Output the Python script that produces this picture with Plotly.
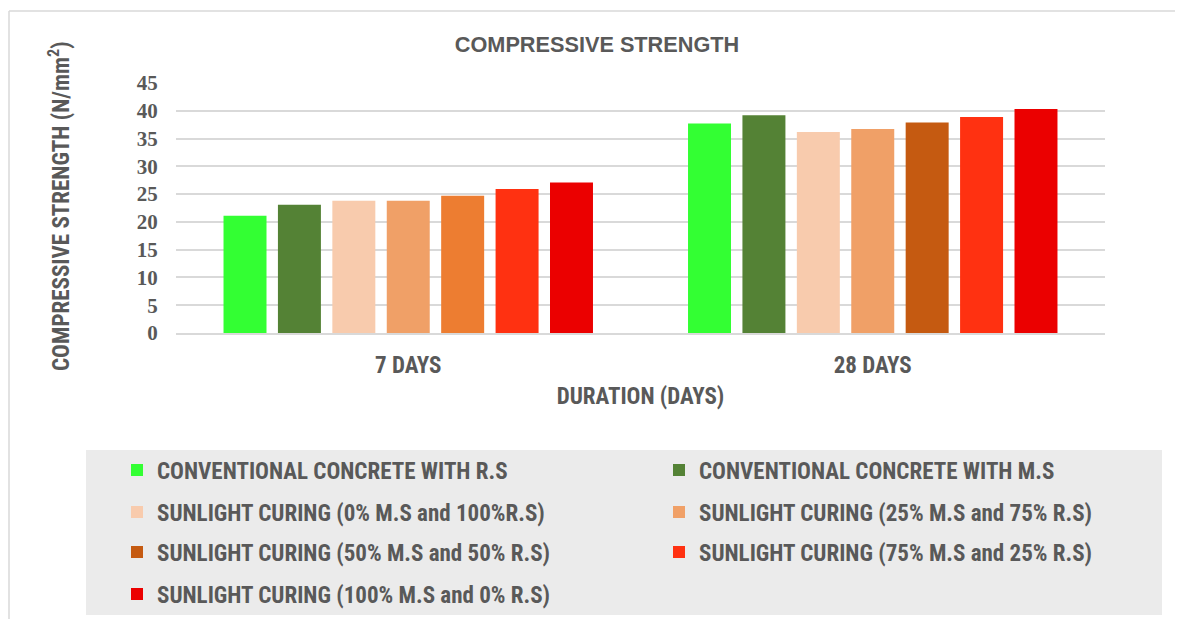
import plotly.graph_objects as go

# categories and series values
categories = ['7 DAYS', '28 DAYS']
series_names = ['CONVENTIONAL CONCRETE WITH R.S',
                'CONVENTIONAL CONCRETE WITH M.S',
                'SUNLIGHT CURING (0% M.S and 100%R.S)',
                'SUNLIGHT CURING (25% M.S and 75% R.S)',
                'SUNLIGHT CURING (50% M.S and 50% R.S)',
                'SUNLIGHT CURING (75% M.S and 25% R.S)',
                'SUNLIGHT CURING (100% M.S and 0% R.S)']
conv_rs = [21.1, 37.7]
conv_ms = [23.1, 39.2]
sun_0 = [23.8, 36.2]
sun_25 = [23.8, 36.7]
sun_50 = [24.7, 37.9]
sun_75 = [25.9, 38.9]
sun_100 = [27.1, 40.3]
y_ticks = [0, 5, 10, 15, 20, 25, 30, 35, 40, 45]

series_values = [conv_rs, conv_ms, sun_0, sun_25, sun_50, sun_75, sun_100]
# 50% bar in the 7 days group is a lighter orange than the legend swatch
series_colors = ['#33FF33', '#548235', '#F8CBAD', '#F0A067',
                 ['#ED7D31', '#C55A11'], '#FF3111', '#EB0000']
legend_colors = ['#33FF33', '#548235', '#F8CBAD', '#F0A067',
                 '#C55A11', '#FF3111', '#EB0000']

txt = '#595959'
narrow = 'Liberation Sans Narrow, Arial Narrow, Roboto Condensed, sans-serif'
wide = 'Liberation Sans, Arial, sans-serif'

# page body adds 8px margin around the figure
OFF = 8
# plot area in screen pixels
L, R, T, B = 176 - OFF, 1105 - OFF, 83 - OFF, 333 - OFF
W, H = R - L, B - T


def px(x):
    return (x - OFF - L) / W


def py(y):
    return (B - (y - OFF)) / H


fig = go.Figure()
for i, (name, vals) in enumerate(zip(series_names, series_values)):
    lg = 'legend' if i < 2 else 'legend%d' % (i // 2 + 1)
    fig.add_trace(go.Bar(x=categories, y=vals, name=name, offsetgroup=str(i),
                         marker=dict(color=series_colors[i], line=dict(width=0)),
                         legend=lg, showlegend=False))
    # legend swatch with single colour
    fig.add_trace(go.Bar(x=[None], y=[None], name=name, offsetgroup=str(i),
                         marker=dict(color=legend_colors[i], line=dict(width=0)),
                         legend=lg, showlegend=True))

legend_font = dict(family=narrow, size=23, color=txt, weight='bold')
row_y = [470, 512, 552, 594]
legends = {}
for r, yy in enumerate(row_y):
    key = 'legend' if r == 0 else 'legend%d' % (r + 1)
    legends[key] = dict(orientation='h', x=px(117), xanchor='left', y=py(yy), yanchor='middle',
                        entrywidth=497, entrywidthmode='pixels', bgcolor='rgba(0,0,0,0)',
                        font=legend_font, itemclick=False, traceorder='normal')

fig.update_layout(
    width=1183, height=619,
    margin=dict(l=L, r=1183 - R, t=T, b=619 - B, autoexpand=False),
    paper_bgcolor='white', plot_bgcolor='white',
    barmode='group', bargap=0.18, bargroupgap=0.21,
    title=dict(text='COMPRESSIVE STRENGTH', x=(597 - OFF) / 1183, xanchor='center', xref='container',
               y=1 - 36 / 619, yanchor='middle', yref='container',
               font=dict(family=wide, size=21.7, color=txt, weight='bold')),
    xaxis=dict(showgrid=False, showline=True, linecolor='#D9D9D9', linewidth=2, automargin=False,
               ticks='outside', ticklen=10, tickcolor='rgba(0,0,0,0)',
               tickfont=dict(family=narrow, size=23, color=txt, weight='bold'),
               title=dict(text='DURATION (DAYS)', standoff=10,
                          font=dict(family=narrow, size=23, color=txt, weight='bold'))),
    yaxis=dict(range=[0, 45], tickvals=y_ticks, showgrid=True, gridcolor='#D9D9D9', gridwidth=1.5,
               zeroline=False, showline=False, automargin=False,
               ticks='outside', ticklen=13, tickcolor='rgba(0,0,0,0)',
               tickfont=dict(family='Liberation Serif, Times New Roman, serif', size=21,
                             color=txt, weight='bold')),
    **legends,
)

# y axis title
fig.add_annotation(text='COMPRESSIVE STRENGTH (N/mm<sup>2</sup>)', textangle=-90,
                   xref='paper', yref='paper', x=px(59), y=py(206), showarrow=False,
                   xanchor='center', yanchor='middle',
                   font=dict(family=narrow, size=23, color=txt, weight='bold'))

# legend background box
fig.add_shape(type='rect', xref='paper', yref='paper', x0=px(86), x1=px(1162), y0=py(615), y1=py(450),
              fillcolor='#EBEBEB', line=dict(width=0), layer='below')
# chart frame: only left and top edges are visible
frame = dict(color='#D9D9D9', width=1.5)
fig.add_shape(type='line', xref='paper', yref='paper', x0=px(9), x1=px(9), y0=py(640), y1=py(11),
              line=frame, layer='below')
fig.add_shape(type='line', xref='paper', yref='paper', x0=px(9), x1=px(1200), y0=py(11), y1=py(11),
              line=frame, layer='below')

fig.write_html('out.html')
